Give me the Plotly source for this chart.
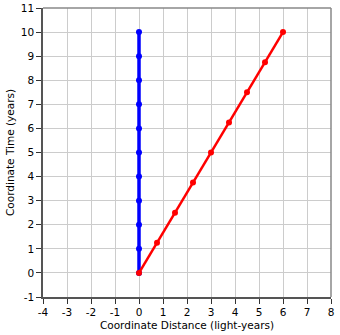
import plotly.graph_objects as go

blue_x = [0, 0, 0, 0, 0, 0, 0, 0, 0, 0, 0]
blue_y = [0, 1, 2, 3, 4, 5, 6, 7, 8, 9, 10]
red_x = [0, 0.75, 1.5, 2.25, 3, 3.75, 4.5, 5.25, 6]
red_y = [0, 1.25, 2.5, 3.75, 5, 6.25, 7.5, 8.75, 10]
x_ticks = list(range(-4, 9))
y_ticks = list(range(-1, 12))
x_labels = [str(v) for v in x_ticks]
y_labels = [str(v) for v in y_ticks]

fig = go.Figure()
fig.add_trace(go.Scatter(x=blue_x, y=blue_y, mode="lines+markers",
                         line=dict(color="#0000ff", width=3.5),
                         marker=dict(color="#0000ff", size=6)))
fig.add_trace(go.Scatter(x=red_x, y=red_y, mode="lines+markers",
                         line=dict(color="#ff0000", width=2.5),
                         marker=dict(color="#ff0000", size=6)))

font = dict(family="DejaVu Sans", size=10.5, color="#000000")
fig.update_layout(
    width=340, height=335,
    margin=dict(l=43, r=9, t=8, b=38),
    paper_bgcolor="white", plot_bgcolor="white",
    showlegend=False,
    font=font,
    xaxis=dict(range=[-4, 8], tickvals=x_ticks, ticktext=x_labels, automargin=False,
               showgrid=True, gridcolor="#cccccc", gridwidth=1,
               zeroline=False, showline=True, linecolor="#555555", linewidth=1.5,
               ticks="outside", ticklen=5, tickcolor="#333333",
               title=dict(text="Coordinate Distance (light-years)", standoff=4, font=font)),
    yaxis=dict(range=[-1, 11], tickvals=y_ticks, ticktext=y_labels, automargin=False,
               showgrid=True, gridcolor="#cccccc", gridwidth=1,
               zeroline=False, showline=True, linecolor="#555555", linewidth=1.5,
               ticks="outside", ticklen=5, tickcolor="#333333",
               title=dict(text="Coordinate Time (years)", standoff=4, font=font)),
)
fig.add_shape(type="line", xref="paper", yref="paper", x0=0, x1=1, y0=1, y1=1,
              line=dict(color="#888888", width=1.5))
fig.add_shape(type="line", xref="paper", yref="paper", x0=1, x1=1, y0=0, y1=1,
              line=dict(color="#888888", width=1.5))
fig.write_html("out.html")
